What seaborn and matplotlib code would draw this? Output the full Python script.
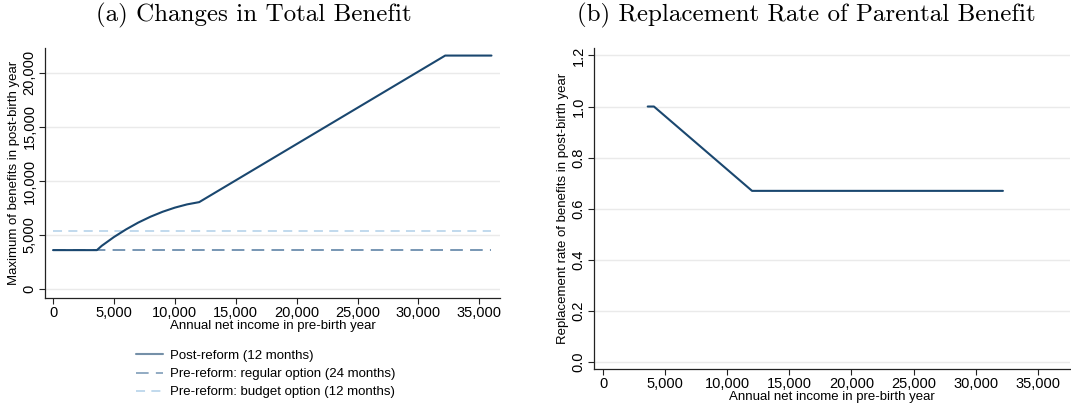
import numpy as np
import pandas as pd
import matplotlib
matplotlib.use("Agg")
import matplotlib.pyplot as plt
import matplotlib.ticker as mticker
import seaborn as sns

# panel (a): benefit schedules
income_post = [0, 3600, 4000, 5000, 6000, 7000, 8000, 9000, 10000, 11000, 12000, 32200, 36000]
benefit_post = [3600, 3600, 4000, 4810, 5520, 6150, 6690, 7150, 7530, 7830, 8040, 21600, 21600]
income_flat = [0, 36000]
benefit_regular = [3600, 3600]
benefit_budget = [5400, 5400]

# panel (b): replacement rate
income_rate = [3600, 4100, 12000, 32200]
rate = [1.0, 1.0, 0.67, 0.67]

navy = "#1a476f"
steel = "#6c8eae"
light = "#bcd7ec"

sns.set_style("white")
plt.rcParams["font.family"] = ["Liberation Sans", "DejaVu Sans"]
plt.rcParams["text.color"] = "black"
plt.rcParams["axes.labelcolor"] = "black"
plt.rcParams["xtick.color"] = "black"
plt.rcParams["ytick.color"] = "black"

fig = plt.figure(figsize=(10.71, 4.09), dpi=100)
W, H = 1071, 409
ax1 = fig.add_axes([45 / W, 1 - 298 / H, 455 / W, 250 / H])
ax2 = fig.add_axes([594 / W, 1 - 369 / H, 476 / W, 321 / H])

df_post = pd.DataFrame({"x": income_post, "y": benefit_post})
df_reg = pd.DataFrame({"x": income_flat, "y": benefit_regular})
df_bud = pd.DataFrame({"x": income_flat, "y": benefit_budget})

sns.lineplot(data=df_bud, x="x", y="y", ax=ax1, color=light, lw=1.3,
             linestyle=(0, (5, 3.5)), label="Pre-reform: budget option (12 months)")
sns.lineplot(data=df_reg, x="x", y="y", ax=ax1, color=steel, lw=1.3,
             linestyle=(0, (7, 4)), label="Pre-reform: regular option (24 months)")
sns.lineplot(data=df_post, x="x", y="y", ax=ax1, color=navy, lw=1.5,
             label="Post-reform (12 months)")

df_rate = pd.DataFrame({"x": income_rate, "y": rate})
sns.lineplot(data=df_rate, x="x", y="y", ax=ax2, color=navy, lw=1.5)

tick_font = 10.5
label_font = 9.5
for ax in (ax1, ax2):
    ax.set_xticks(np.arange(0, 35001, 5000))
    ax.xaxis.set_major_formatter(mticker.StrMethodFormatter("{x:,.0f}"))
    ax.grid(axis="y", color="#eaeaea", lw=1)
    ax.grid(axis="x", visible=False)
    for s in ("top", "right"):
        ax.spines[s].set_visible(False)
    for s in ("left", "bottom"):
        ax.spines[s].set_color("#222222")
        ax.spines[s].set_linewidth(0.9)
    ax.tick_params(axis="both", direction="out", length=4, width=0.8, color="#222222",
                   labelsize=tick_font, left=True, bottom=True, pad=2)
    ax.set_xlabel("Annual net income in pre-birth year", fontsize=label_font, labelpad=0)

ax1.set_xlim(-660, 36700)
ax1.set_ylim(-830, 22300)
ax1.set_yticks(np.arange(0, 20001, 5000))
ax1.yaxis.set_major_formatter(mticker.StrMethodFormatter("{x:,.0f}"))
ax1.set_ylabel("Maximum of benefits in post-birth year", fontsize=label_font, labelpad=2)

ax2.set_xlim(-725, 37600)
ax2.set_ylim(-0.027, 1.229)
ax2.set_yticks(np.arange(0, 1.21, 0.2))
ax2.yaxis.set_major_formatter(mticker.StrMethodFormatter("{x:.1f}"))
ax2.set_ylabel("Replacement rate of benefits in post-birth year", fontsize=label_font, labelpad=2)

for ax in (ax1, ax2):
    plt.setp(ax.get_yticklabels(), rotation=90, va="center")

# legend below panel (a)
handles, labels = ax1.get_legend_handles_labels()
order = [2, 1, 0]
ax1.get_legend().remove()
leg = fig.legend([handles[i] for i in order], [labels[i] for i in order],
                 loc="center", bbox_to_anchor=(266 / W, 1 - 374 / H), frameon=False,
                 fontsize=label_font, handlelength=2.0, labelspacing=0.45, handletextpad=0.6)
leg_lines = leg.get_lines()
leg_lines[0].set_alpha(0.6)
leg_lines[1].set_alpha(0.8)

title_font = ["cmr10", "DejaVu Serif"]
fig.text(254 / W, 1 - 15 / H, "(a) Changes in Total Benefit", ha="center", va="center",
         fontsize=18, family=title_font)
fig.text(806 / W, 1 - 15 / H, "(b) Replacement Rate of Parental Benefit", ha="center",
         va="center", fontsize=18, family=title_font)

fig.savefig("out.png", dpi=100)
